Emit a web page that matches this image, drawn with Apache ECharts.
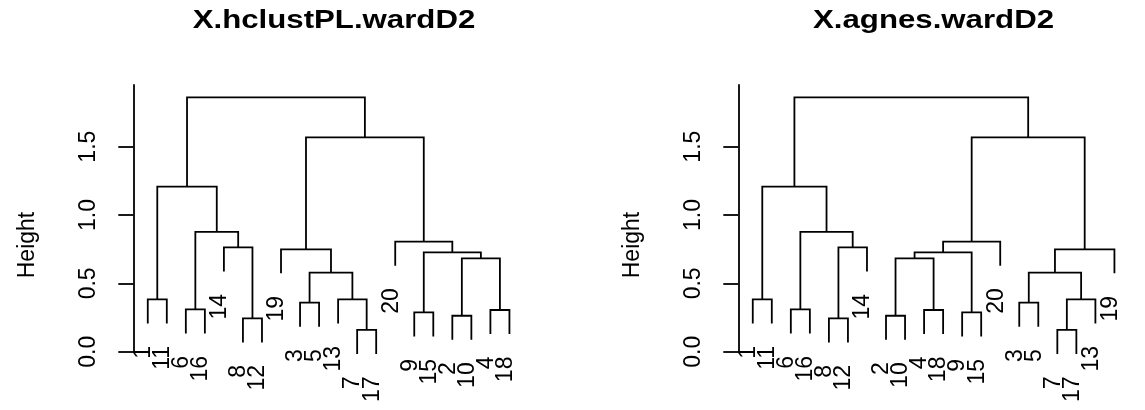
<!DOCTYPE html>
<html><head><meta charset="utf-8">
<script src="https://cdn.jsdelivr.net/npm/echarts@6/dist/echarts.min.js"></script>
<style>html,body{margin:0;padding:0;background:#fff}#c{width:1145px;height:410px}</style>
</head><body><div id="c"></div>
<script>
// ---------------- data ----------------
const titles = ['X.hclustPL.wardD2', 'X.agnes.wardD2'];
const yAxisName = 'Height';
const yTicks = [0, 0.5, 1.0, 1.5];

// left dendrogram (hclust): leaf order and merges (R convention: negative = leaf id, positive = earlier merge step)
const orderL = [1, 11, 6, 16, 14, 8, 12, 19, 3, 5, 13, 7, 17, 20, 9, 15, 2, 10, 4, 18];
const mergeL = [
  [-7, -17], [-8, -12], [-2, -10], [-9, -15], [-4, -18], [-6, -16], [-3, -5], [-1, -11],
  [-13, 1], [7, 9], [3, 5], [4, 11], [-19, 10], [-14, 2], [-20, 12], [6, 14], [8, 16], [13, 15], [17, 18]
];
const heightL = [0.159, 0.244, 0.263, 0.288, 0.305, 0.310, 0.359, 0.383, 0.383, 0.578, 0.683, 0.727, 0.749, 0.763, 0.805, 0.876, 1.207, 1.568, 1.861];

// right dendrogram (agnes)
const orderR = [1, 11, 6, 16, 8, 12, 14, 2, 10, 4, 18, 9, 15, 20, 3, 5, 7, 17, 13, 19];
const mergeR = [
  [-7, -17], [-8, -12], [-2, -10], [-9, -15], [-4, -18], [-6, -16], [-3, -5], [-1, -11],
  [1, -13], [7, 9], [3, 5], [11, 4], [10, -19], [2, -14], [12, -20], [6, 14], [8, 16], [15, 13], [17, 18]
];
const heightR = [0.159, 0.244, 0.263, 0.288, 0.305, 0.310, 0.359, 0.383, 0.383, 0.578, 0.683, 0.727, 0.749, 0.763, 0.805, 0.876, 1.207, 1.568, 1.861];

const hang = 0.176;   // leaf drop below its merge height
const yTop = 1.951;   // top of plotting region

// ---------------- layout from data ----------------
function layout(order, merge, height) {
  const pos = {};
  order.forEach((id, i) => { pos[id] = i + 1; });
  const mx = [], segs = [], leaves = [];
  merge.forEach((m, i) => {
    const h = height[i];
    const child = c => c < 0 ? { x: pos[-c], y: h - hang, leaf: -c } : { x: mx[c - 1], y: height[c - 1] };
    const a = child(m[0]), b = child(m[1]);
    mx[i] = (a.x + b.x) / 2;
    segs.push([a.x, a.y, b.x, b.y, h]);
    [a, b].forEach(c => { if (c.leaf) leaves.push([c.x, c.y, c.leaf]); });
  });
  return { segs, leaves };
}
const L = layout(orderL, mergeL, heightL);
const R = layout(orderR, mergeR, heightR);

const FONT = 'Liberation Sans, Arial, Helvetica, sans-serif';
const INK = '#000';
const LW = 1.8;

function segSeries(idx, data) {
  return {
    type: 'custom', xAxisIndex: idx, yAxisIndex: idx, data: data, clip: false, silent: true,
    renderItem(params, api) {
      const p1 = api.coord([api.value(0), api.value(1)]);
      const p2 = api.coord([api.value(0), api.value(4)]);
      const p3 = api.coord([api.value(2), api.value(4)]);
      const p4 = api.coord([api.value(2), api.value(3)]);
      return { type: 'polyline', shape: { points: [p1, p2, p3, p4] },
               style: { stroke: INK, lineWidth: LW, fill: null, lineJoin: 'miter', lineCap: 'butt' } };
    }
  };
}
function labelSeries(idx, data) {
  return {
    type: 'custom', xAxisIndex: idx, yAxisIndex: idx, data: data, clip: false, silent: true,
    renderItem(params, api) {
      const p = api.coord([api.value(0), api.value(1)]);
      return { type: 'text', x: p[0] - 4, y: p[1] + 22.5, rotation: Math.PI / 2,
               style: { text: String(api.value(2)), align: 'right', verticalAlign: 'middle',
                        fontSize: 23, fontFamily: FONT, fill: INK } };
    }
  };
}
function yAx(idx) {
  return {
    type: 'value', gridIndex: idx, min: 0, max: yTop,
    axisLine: { show: true, lineStyle: { color: INK, width: LW } },
    axisTick: { show: true, customValues: yTicks, length: 15, lineStyle: { color: INK, width: LW } },
    axisLabel: { show: true, customValues: yTicks, rotate: 90, margin: 33, fontSize: 23,
                 fontFamily: FONT, color: INK, formatter: v => v.toFixed(1) },
    splitLine: { show: false }
  };
}
function xAx(idx) {
  return { type: 'value', gridIndex: idx, min: 0.24, max: 20.76, show: false };
}

const PW = 390.6, PH = 266.7, PT = 85;
const option = {
  animation: false,
  backgroundColor: '#fff',
  grid: [
    { left: 133.3, top: PT, width: PW, height: PH, outerBoundsMode: 'none' },
    { left: 738.3, top: PT, width: PW, height: PH, outerBoundsMode: 'none' }
  ],
  xAxis: [xAx(0), xAx(1)],
  yAxis: [yAx(0), yAx(1)],
  graphic: [
    { type: 'text', x: 334, y: 21, scaleX: 1.2, silent: true,
      style: { text: titles[0], align: 'center', verticalAlign: 'middle', fontSize: 26, fontWeight: 'bold', fontFamily: FONT, fill: INK } },
    { type: 'text', x: 933.5, y: 21, scaleX: 1.2, silent: true,
      style: { text: titles[1], align: 'center', verticalAlign: 'middle', fontSize: 26, fontWeight: 'bold', fontFamily: FONT, fill: INK } },
    { type: 'text', x: 28, y: 245, rotation: Math.PI / 2, silent: true,
      style: { text: yAxisName, align: 'center', verticalAlign: 'middle', fontSize: 23, fontFamily: FONT, fill: INK } },
    { type: 'text', x: 633, y: 245, rotation: Math.PI / 2, silent: true,
      style: { text: yAxisName, align: 'center', verticalAlign: 'middle', fontSize: 23, fontFamily: FONT, fill: INK } }
  ],
  series: [segSeries(0, L.segs), labelSeries(0, L.leaves), segSeries(1, R.segs), labelSeries(1, R.leaves)]
};
const chart = echarts.init(document.getElementById('c'), null, { renderer: 'canvas' });
chart.setOption(option);
</script></body></html>
